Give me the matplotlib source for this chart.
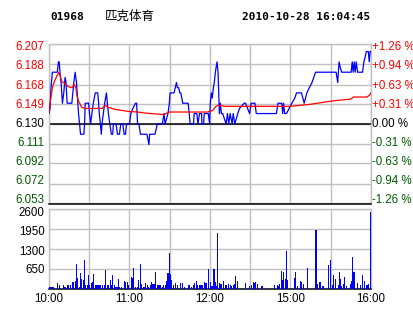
import matplotlib
matplotlib.use("Agg")
import matplotlib.pyplot as plt
from matplotlib.transforms import offset_copy

# minutes since 10:00 (lunch break removed: 12:30 and 14:30 both sit at minute 150)
price_pts = [
    (0, 6.14), (0.8, 6.145), (1.5, 6.165), (2.5, 6.18), (6.2, 6.18), (7, 6.19),
    (7.6, 6.19), (8.2, 6.18), (9, 6.17), (10, 6.15), (11, 6.16), (12, 6.175),
    (12.7, 6.17), (13.5, 6.15), (17, 6.15), (18.5, 6.17), (19.5, 6.18),
    (20.5, 6.17), (21.5, 6.15), (22, 6.14), (22.8, 6.13), (23.5, 6.12),
    (26, 6.12), (26.5, 6.13), (27, 6.15), (29.5, 6.15), (30.2, 6.14),
    (31, 6.13), (32, 6.14), (33, 6.15), (34.5, 6.16), (36.3, 6.16), (37, 6.15),
    (37.5, 6.14), (38.3, 6.13), (39, 6.12), (39.5, 6.13), (40.5, 6.14),
    (41.5, 6.15), (42.8, 6.16), (43.5, 6.15), (44.3, 6.14), (45.3, 6.13),
    (46.5, 6.12), (47.5, 6.12), (48, 6.13), (50, 6.13), (51, 6.12),
    (52.5, 6.12), (53.5, 6.13), (55, 6.13), (56, 6.12), (57, 6.12),
    (57.8, 6.13), (60, 6.13), (61, 6.14), (62.5, 6.145), (64.5, 6.15),
    (65.3, 6.15), (66, 6.13), (67, 6.13), (68.2, 6.12), (73, 6.12),
    (74.5, 6.11), (75, 6.12), (79, 6.12), (80.7, 6.13), (84.5, 6.13),
    (85.7, 6.14), (86.5, 6.13), (88.7, 6.14), (89.7, 6.15), (90.2, 6.16),
    (93.2, 6.16), (95, 6.17), (95.7, 6.165), (96.7, 6.165), (97.5, 6.16),
    (98.2, 6.16), (99, 6.155), (99.7, 6.15), (103.7, 6.15), (104.5, 6.14),
    (105.2, 6.13), (107.7, 6.13), (108.2, 6.14), (110.2, 6.14), (111, 6.13),
    (112.2, 6.14), (113.7, 6.14), (114, 6.13), (115.2, 6.13), (115.7, 6.14),
    (118.7, 6.14), (119.7, 6.13), (120.2, 6.15), (121, 6.16), (121.7, 6.155),
    (122.5, 6.165), (123.2, 6.17), (124, 6.18), (125.2, 6.19), (126, 6.18),
    (126.5, 6.16), (127, 6.14), (127.7, 6.15), (128.5, 6.14), (129.5, 6.14),
    (130.7, 6.135), (132, 6.13), (133, 6.14), (134, 6.13), (135, 6.14),
    (136.5, 6.13), (137.3, 6.14), (138.5, 6.13), (140.7, 6.14), (142, 6.145),
    (145.5, 6.15), (146.5, 6.15), (148, 6.145), (149.5, 6.14), (150.7, 6.15),
    (153.5, 6.15), (154.5, 6.14), (169.5, 6.14), (170.7, 6.15), (173.5, 6.15),
    (174.2, 6.14), (174.8, 6.15), (175.7, 6.14), (177, 6.14), (179, 6.145),
    (181, 6.15), (183.2, 6.155), (184.5, 6.16), (188.2, 6.16), (190.2, 6.15),
    (192.2, 6.16), (194, 6.165), (196, 6.17), (198.7, 6.18), (214, 6.18),
    (215.2, 6.17), (216.2, 6.19), (217, 6.185), (218.2, 6.18), (225.2, 6.18),
    (226, 6.19), (226.7, 6.18), (227.5, 6.19), (228.2, 6.18), (229, 6.19),
    (230, 6.18), (233.7, 6.18), (234.7, 6.19), (235.7, 6.195), (236.5, 6.20),
    (238, 6.20), (238.7, 6.19), (239.3, 6.20), (240, 6.20),
]

avg_pts = [
    (0, 6.141), (1, 6.152), (2.5, 6.165), (4, 6.171), (5.75, 6.176), (7.5, 6.18),
    (9.5, 6.171), (12, 6.169), (14.5, 6.166), (17, 6.165), (19, 6.168),
    (20, 6.165), (20.75, 6.158), (22, 6.152), (23.25, 6.149), (24.5, 6.146),
    (27, 6.145), (39.5, 6.145), (42, 6.148), (44, 6.146), (49.5, 6.144),
    (54.5, 6.143), (59.5, 6.142), (66, 6.1415), (73, 6.1403), (80, 6.1396),
    (85.75, 6.139), (89.5, 6.1415), (118.25, 6.1415), (122, 6.143),
    (124.5, 6.147), (126, 6.148), (131.5, 6.147), (180, 6.147), (195, 6.149),
    (205, 6.151), (213, 6.1525), (225, 6.154), (227, 6.156), (237, 6.156),
    (239, 6.158), (240, 6.160),
]

vol_pts = [
    (0, 65), (1, 65), (2, 65), (3, 65), (6.2, 165), (7.5, 100), (10.7, 130),
    (11.5, 65), (12.5, 65), (13.7, 100), (14.7, 100), (16, 130), (17.2, 210),
    (18.2, 210), (19.7, 240), (20.5, 790), (21.2, 330), (22.5, 65),
    (23.5, 500), (24.2, 300), (25.5, 275), (26.5, 935), (27.2, 120),
    (28.7, 100), (29.5, 440), (30.2, 100), (31.7, 190), (32.5, 210),
    (33.2, 460), (34.5, 100), (35.7, 130), (36.5, 130), (37.7, 130),
    (38.7, 130), (40, 130), (41.2, 130), (42.2, 605), (43.5, 100), (44.5, 100),
    (45.5, 275), (46.7, 100), (47.5, 440), (48.5, 100), (49.7, 65), (50.7, 65),
    (51.5, 300), (52.5, 65), (53.7, 65), (56, 250), (57, 210), (58.5, 210),
    (59.5, 100), (61.7, 375), (62.5, 350), (63.2, 660), (64.5, 65), (66, 65),
    (66.7, 275), (68, 790), (68.7, 140), (70.2, 65), (71.5, 65), (72.2, 165),
    (73.5, 100), (74.5, 65), (75.5, 100), (76.5, 210), (77.5, 140),
    (78.5, 140), (79.7, 540), (80.7, 100), (82, 100), (83.2, 100), (84.5, 65),
    (85.5, 100), (86.5, 100), (87.5, 240), (88.7, 495), (89.5, 1160),
    (90.2, 460), (91.5, 275), (92.5, 100), (94.5, 165), (95.5, 100),
    (97.7, 180), (99.5, 180), (101, 65), (104, 130), (104.7, 100), (106.5, 65),
    (107.5, 100), (108.5, 165), (109.7, 240), (110.5, 100), (112, 130),
    (112.7, 130), (113.7, 100), (114.5, 130), (115.7, 210), (117, 165),
    (117.7, 190), (119, 650), (120.2, 200), (121.5, 90), (122.5, 110),
    (123, 650), (124, 200), (125, 75), (125.7, 1820), (127, 165), (128.2, 145),
    (130, 240), (131.5, 130), (132.5, 130), (133.5, 155), (135.2, 110),
    (136, 75), (137.5, 130), (138.5, 155), (139.2, 415), (140.5, 240),
    (146.7, 180), (149.5, 75), (150.7, 110), (152.7, 210), (153.5, 190),
    (154.2, 210), (155.5, 140), (158.5, 75), (159.2, 75), (168.2, 110),
    (170.5, 110), (171.2, 75), (172, 140), (173.5, 560), (174.2, 275),
    (175, 540), (176.5, 310), (177.2, 1230), (178, 275), (183.2, 350),
    (184, 550), (185.5, 75), (187.2, 240), (188.5, 200), (189.5, 140),
    (193, 670), (199, 1930), (200.2, 140), (202, 220), (204.2, 75), (208, 770),
    (209.5, 940), (210, 140), (211, 130), (212.2, 440), (213.2, 310),
    (215.5, 110), (216.2, 540), (217, 310), (218.2, 75), (219.7, 140),
    (220.5, 385), (221.5, 75), (224.5, 140), (225.2, 240), (226, 1035),
    (227, 540), (228, 540), (230.2, 165), (232, 130), (233.5, 430),
    (235, 240), (237, 110), (238, 140), (239.5, 90), (240, 2500),
]

left_ticks = [6.053, 6.072, 6.092, 6.111, 6.130, 6.149, 6.168, 6.188, 6.207]
left_labels = ["6.053", "6.072", "6.092", "6.111", "6.130", "6.149", "6.168", "6.188", "6.207"]
right_labels = ["-1.26 %", "-0.94 %", "-0.63 %", "-0.31 %", "0.00 %",
                "+0.31 %", "+0.63 %", "+0.94 %", "+1.26 %"]
vol_ticks = [650, 1300, 1950, 2600]
time_ticks = [0, 60, 120, 180, 240]
time_labels = ["10:00", "11:00", "12:00", "15:00", "16:00"]
prev_close = 6.130

RED = "#ff0000"
GREEN = "#005a00"
GRID = "#c0c0c0"


def label_color(v):
    if abs(v - prev_close) < 1e-9:
        return "black"
    return RED if v > prev_close else GREEN


price_t, price_v = zip(*price_pts)
avg_t, avg_v = zip(*avg_pts)
vol_t, vol_v = zip(*vol_pts)

W, H = 414, 314
fig = plt.figure(figsize=(W / 100, H / 100), dpi=100)
fig.patch.set_facecolor("white")

L, R = 49, 371
ax = fig.add_axes([L / W, 1 - 203.5 / H, (R - L) / W, (203.5 - 44.3) / H])
axv = fig.add_axes([L / W, 1 - 288.5 / H, (R - L) / W, (288.5 - 209.3) / H])

label_font = {"family": "Liberation Sans", "size": 8.3}


def style_frame(a):
    a.grid(True, which="both", color=GRID, lw=1.0)
    a.set_axisbelow(True)
    for s in ["left", "top", "right"]:
        a.spines[s].set_color(GRID)
        a.spines[s].set_linewidth(1.0)
    a.spines["bottom"].set_color("black")
    a.spines["bottom"].set_linewidth(1.1)


# --- price panel ---
ax.plot(price_t, price_v, color="#0000ff", lw=0.9, zorder=3)
ax.plot(avg_t, avg_v, color=RED, lw=0.9, zorder=4)
ax.axhline(prev_close, color="black", lw=1.1, zorder=2)
ax.set_xlim(0, 240)
ax.set_ylim(left_ticks[0], left_ticks[-1])
ax.set_yticks(left_ticks)
ax.set_yticklabels([])
ax.set_xticks(range(0, 241, 30))
ax.set_xticklabels([])
ax.tick_params(length=0)
style_frame(ax)

# the labels sit a little inside the outer grid lines, as in the original
left_tr = offset_copy(ax.get_yaxis_transform(), fig=fig, x=-4.5, y=0, units="dots")
right_tr = offset_copy(ax.get_yaxis_transform(), fig=fig, x=1.5, y=0, units="dots")
for v, lt, rt in zip(left_ticks, left_labels, right_labels):
    ly = prev_close + (v - prev_close) * 0.96
    ax.text(0, ly, lt, transform=left_tr, ha="right", va="center",
            color=label_color(v), fontdict=label_font, clip_on=False)
    ax.text(1, ly, rt, transform=right_tr, ha="left", va="center",
            color=label_color(v), fontdict=label_font, clip_on=False)

# --- volume panel ---
axv.bar(vol_t, vol_v, width=0.8, color="#0000ff", zorder=3)
axv.set_xlim(0, 240)
axv.set_ylim(0, 2600)
axv.set_yticks(vol_ticks)
axv.set_yticklabels([])
axv.set_xticks(time_ticks)
axv.set_xticklabels(time_labels, fontdict=label_font)
axv.set_xticks(range(30, 240, 60), minor=True)
axv.tick_params(which="both", length=0)
axv.tick_params(axis="x", pad=3)
style_frame(axv)

vol_nudge = [-1.5, -2.7, -3.3, -3.7]
for v, dy in zip(vol_ticks, vol_nudge):
    tr = offset_copy(axv.get_yaxis_transform(), fig=fig, x=-4.5, y=dy, units="dots")
    axv.text(0, v, str(v), transform=tr, ha="right", va="center",
             color="black", fontdict=label_font, clip_on=False)

# header
fig.text(50 / W, 1 - 17 / H, "01968", family="DejaVu Sans Mono", weight="bold",
         size=8.0, va="center", ha="left")
fig.text(105 / W, 1 - 16 / H, "匹克体育", family=["Noto Sans CJK SC", "DejaVu Sans"],
         size=9.0, va="center", ha="left")
fig.text(370 / W, 1 - 17 / H, "2010-10-28 16:04:45", family="DejaVu Sans Mono",
         weight="bold", size=8.0, va="center", ha="right")

fig.savefig("out.png", dpi=100)
